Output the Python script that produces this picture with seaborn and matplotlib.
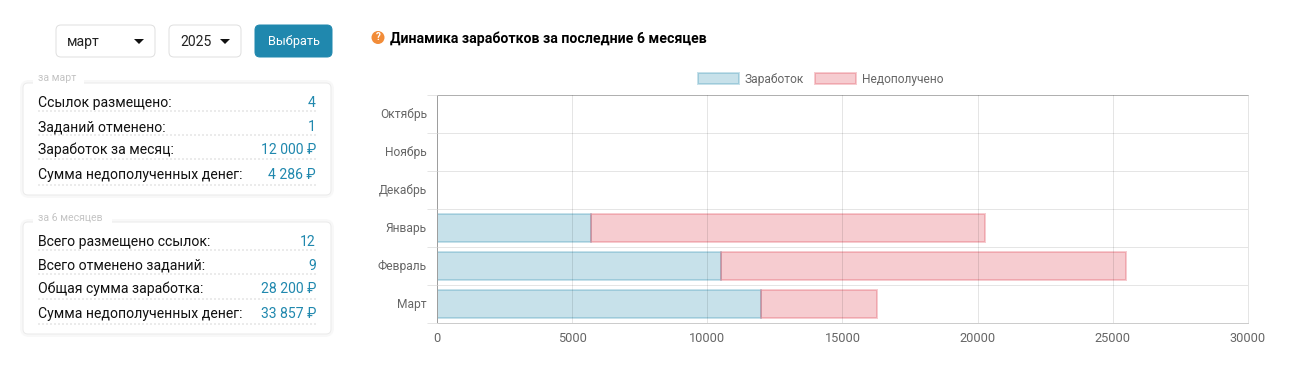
"""Earnings dashboard: two summary cards and a stacked bar chart for 6 months."""
import matplotlib.pyplot as plt
import numpy as np
import pandas as pd
import seaborn as sns
from matplotlib.patches import Circle, FancyBboxPatch, Polygon, Rectangle
from matplotlib.transforms import ScaledTranslation

months = ['Октябрь', 'Ноябрь', 'Декабрь', 'Январь', 'Февраль', 'Март']
earned = [0, 0, 0, 5700, 10500, 12000]
missed = [0, 0, 0, 14571, 15000, 4286]
x_ticks = [0, 5000, 10000, 15000, 20000, 25000, 30000]

month_labels = ['Ссылок размещено:', 'Заданий отменено:',
                'Заработок за месяц:', 'Сумма недополученных денег:']
month_values = ['4', '1', '12 000 ₽', '4 286 ₽']
total_labels = ['Всего размещено ссылок:', 'Всего отменено заданий:',
                'Общая сумма заработка:', 'Сумма недополученных денег:']
total_values = ['12', '9', '28 200 ₽', '33 857 ₽']

W, H = 1295, 371
BLUE = '#2088ae'
PX = 0.72  # points per pixel at dpi 100

sns.set_theme(style='white')
plt.rcParams['font.family'] = ['Roboto', 'DejaVu Sans']

fig = plt.figure(figsize=(W / 100, H / 100), dpi=100)

# overlay in pixel coordinates for the page widgets
page = fig.add_axes([0, 0, 1, 1])
page.set_xlim(0, W)
page.set_ylim(H, 0)
page.axis('off')


def box(x0, y0, x1, y1, radius=5, fc='white', ec='#dedede', lw=1.0, **kw):
    patch = FancyBboxPatch((x0, y0), x1 - x0, y1 - y0,
                           boxstyle=f'round,pad=0,rounding_size={radius}',
                           fc=fc, ec=ec, lw=lw * PX, **kw)
    page.add_patch(patch)


def card(x0, y0, y1, title, title_w, label_w, rows, values, text_y, dot_y):
    # soft shadow first, then the card
    box(x0, y0, 331, y1, radius=6, fc='white', ec='#f8f8f8', lw=6)
    box(x0, y0, 331, y1, radius=5, fc='white', ec='#ebebeb', lw=1)
    page.add_patch(Rectangle((33, y0 - 7), title_w, 11, fc='white', ec='none', zorder=3))
    page.text(38, y0 - 5, title, color='#c4c4c4', fontsize=10.5 * PX,
              va='center', ha='left', zorder=4)
    for label, value, ty, dy in zip(rows, values, text_y, dot_y):
        page.text(label_w, ty, label, color='#111111', fontsize=14 * PX,
                  va='center', ha='left')
        page.text(316, ty, value, color=BLUE, fontsize=14 * PX,
                  va='center', ha='right')
        page.plot([38, 316], [dy, dy], color='#ebebeb', lw=2 * PX,
                  ls=(0, (1, 1)), dash_capstyle='butt')


# month / year selectors and button
box(56, 25, 155, 57, fc='white', ec='#e0e0e0')
box(169, 25, 241, 57, fc='white', ec='#e0e0e0')
box(255, 25, 332, 57, fc=BLUE, ec=BLUE)
page.text(67, 42, 'март', color='#222222', fontsize=14 * PX, va='center')
page.text(180, 42, '2025', color='#222222', fontsize=14 * PX, va='center')
page.text(293.5, 41, 'Выбрать', color='white', fontsize=12.7 * PX,
          va='center', ha='center')
page.add_patch(Polygon([(134, 39), (144, 39), (139, 44)], fc='#111111', ec='none'))
page.add_patch(Polygon([(220, 39), (230, 39), (225, 44)], fc='#111111', ec='none'))

card(23, 83, 195, 'за март', 51, 38, month_labels, month_values,
     [103, 127, 150, 175], [110.5, 134.5, 159, 184.5])
card(23, 222, 334, 'за 6 месяцев', 79, 38, total_labels, total_values,
     [242, 266, 289, 314], [250, 274, 299, 324])

# chart heading
page.add_patch(Circle((378, 37.5), 6.5, fc='#f28c38', ec='none'))
page.text(378, 37.5, '?', color='white', fontsize=10 * PX, fontweight='bold',
          va='center', ha='center')
page.text(390, 38.5, 'Динамика заработков за последние 6 месяцев', color='#000000',
          fontsize=14.1 * PX, fontweight='bold', va='center', ha='left')

# stacked bars
ax = fig.add_axes([437 / W, 1 - 323 / H, 811 / W, 228 / H])
ax.patch.set_alpha(0)
df = pd.DataFrame({'month': months, 'earned': earned, 'missed': missed})

sns.barplot(data=df, x='earned', y='month', orient='h', width=0.72, errorbar=None,
            color=BLUE, saturation=1, label='Заработок', ax=ax)
sns.barplot(data=df, x='missed', y='month', orient='h', width=0.72, errorbar=None,
            left=df['earned'].to_numpy(), color='#dc3545', saturation=1,
            label='Недополучено', ax=ax)

styles = [((32 / 255, 136 / 255, 174 / 255, 0.25), (32 / 255, 136 / 255, 174 / 255, 0.25)),
          ((220 / 255, 53 / 255, 69 / 255, 0.25), (220 / 255, 53 / 255, 69 / 255, 0.25))]
for container, (face, edge) in zip(ax.containers, styles):
    for bar in container:
        bar.set_facecolor(face)
        bar.set_edgecolor(edge)
        bar.set_linewidth(2 * PX)

ax.set_xlim(0, 30000)
ax.set_ylim(5.5, -0.5)
ax.set_xlabel('')
ax.set_ylabel('')
ax.set_xticks(x_ticks)
ax.set_yticks(np.arange(-0.5, 6), minor=True)
ax.tick_params(axis='x', which='major', length=0, pad=9.5 * PX, labelsize=12.8 * PX,
               labelcolor='#666666', color='#b0b0b0', width=1 * PX)
ax.tick_params(axis='y', which='major', length=0, pad=10 * PX, labelsize=12 * PX,
               labelcolor='#666666')
ax.tick_params(axis='y', which='minor', length=10 * PX, width=1 * PX, color='#e5e5e5',
               left=True)
ax.xaxis.get_major_ticks()[0].tick1line.set_markersize(8 * PX)

# month labels sit one pixel above the row centre
lift = ScaledTranslation(0, 1 / 100, fig.dpi_scale_trans)
for label in ax.get_yticklabels():
    label.set_transform(label.get_transform() + lift)

ax.set_axisbelow(False)
ax.grid(True, axis='x', which='major', color='black', alpha=0.1, lw=1 * PX)
ax.grid(True, axis='y', which='minor', color='black', alpha=0.1, lw=1 * PX)
ax.grid(False, axis='y', which='major')

for side, colour in [('left', '#b0b0b0'), ('top', '#c4c4c4'), ('bottom', '#cccccc'),
                     ('right', '#e5e5e5')]:
    ax.spines[side].set_visible(True)
    ax.spines[side].set_color(colour)
    ax.spines[side].set_linewidth(1 * PX)

# legend first: its handles copy the first bar, which is hidden just below
ax.legend(ncol=2, loc='center', bbox_to_anchor=(820.5 / W, 1 - 79 / H),
          bbox_transform=fig.transFigure, frameon=False, fontsize=12 * PX,
          labelcolor='#666666', borderpad=0, borderaxespad=0,
          handlelength=41 / 12, handleheight=13 / 12, handletextpad=0.5,
          columnspacing=0.85)

# empty months have no visible bar
for container in ax.containers:
    for bar in container:
        if bar.get_width() == 0:
            bar.set_visible(False)

fig.savefig('out.png', dpi=100)
plt.close(fig)
